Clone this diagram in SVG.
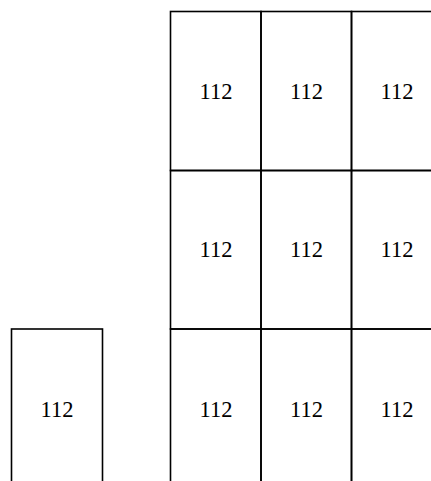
<svg xmlns="http://www.w3.org/2000/svg" width="431" height="481" viewBox="0 0 431 481">
<style>
.c{fill:none;stroke:#000;stroke-width:1.6}
.t{font-family:"Liberation Serif","Times New Roman",serif;font-size:22.5px;fill:#000;text-anchor:middle}
</style>
<rect width="431" height="481" fill="#fff"/>
<g id="n-left"><rect class="c" x="11.5" y="329" width="91" height="170"/><text class="t" x="57" y="417">112</text></g>
<g id="n-r1c1"><rect class="c" x="170.5" y="11.5" width="90.5" height="159"/><text class="t" x="216" y="99">112</text></g>
<g id="n-r1c2"><rect class="c" x="261" y="11.5" width="90.5" height="159"/><text class="t" x="306.5" y="99">112</text></g>
<g id="n-r1c3"><rect class="c" x="351.5" y="11.5" width="91" height="159"/><text class="t" x="397" y="99">112</text></g>
<g id="n-r2c1"><rect class="c" x="170.5" y="170.5" width="90.5" height="158.5"/><text class="t" x="216" y="257">112</text></g>
<g id="n-r2c2"><rect class="c" x="261" y="170.5" width="90.5" height="158.5"/><text class="t" x="306.5" y="257">112</text></g>
<g id="n-r2c3"><rect class="c" x="351.5" y="170.5" width="91" height="158.5"/><text class="t" x="397" y="257">112</text></g>
<g id="n-r3c1"><rect class="c" x="170.5" y="329" width="90.5" height="170"/><text class="t" x="216" y="417">112</text></g>
<g id="n-r3c2"><rect class="c" x="261" y="329" width="90.5" height="170"/><text class="t" x="306.5" y="417">112</text></g>
<g id="n-r3c3"><rect class="c" x="351.5" y="329" width="91" height="170"/><text class="t" x="397" y="417">112</text></g>
<g id="connectors"></g>
</svg>
